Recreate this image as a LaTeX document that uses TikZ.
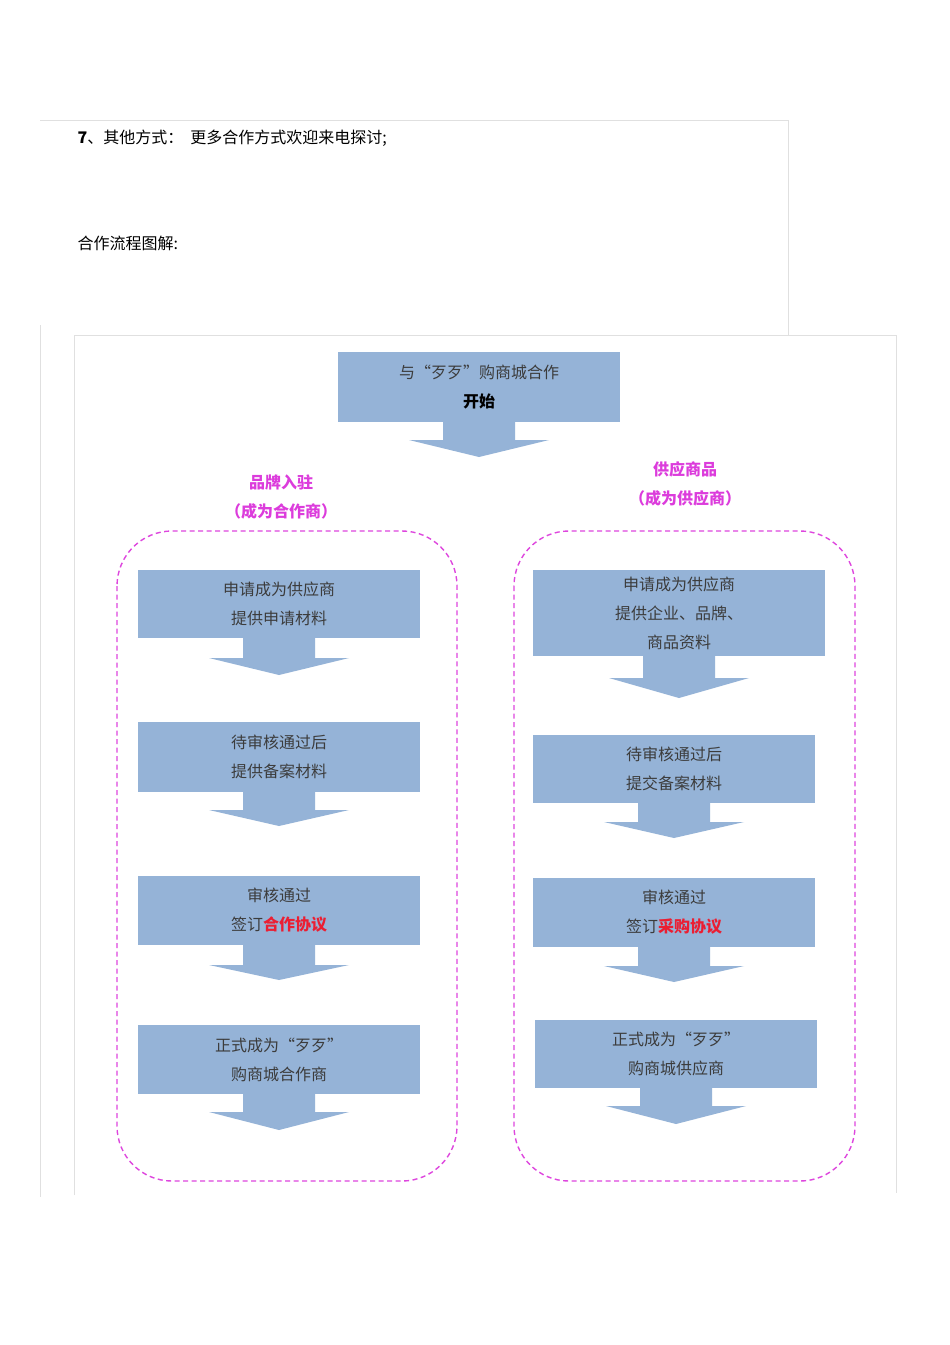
\documentclass[tikz,border=0pt]{standalone}
\usepackage{fontspec}
\setmainfont{Noto Sans CJK SC}
\begin{document}
\begin{tikzpicture}[x=1pt,y=-1pt,
  box/.style={fill=boxblue,inner sep=0pt,align=center,font=\fontsize{16}{29}\selectfont,text=txtgray},
  grpdash/.style={draw=dashmag,line width=1.4pt,dash pattern=on 5pt off 3.5pt,rounded corners=55pt},
  lab/.style={text=labmag,font=\fontsize{16}{29}\selectfont\bfseries,align=center},
  frame/.style={draw=black!12,line width=0.8pt}]
\definecolor{boxblue}{RGB}{149,179,215}
\definecolor{txtgray}{RGB}{60,60,60}
\definecolor{dashmag}{RGB}{222,70,222}
\definecolor{labmag}{RGB}{220,60,220}
\definecolor{hired}{RGB}{235,30,50}
\useasboundingbox (0,0) rectangle (950,1345);
\fill[white] (0,0) rectangle (950,1345);
% frames
\draw[frame] (40,120) -- (788,120) -- (788,335);
\draw[frame] (40,325) -- (40,1197);
\draw[frame] (74,1195) -- (74,335) -- (896,335) -- (896,1193);
\node[anchor=west,font=\fontsize{16}{20}\selectfont] (t1) at (74,138) {\textbf{7}、其他方式：\ \ 更多合作方式欢迎来电探讨;};
\node[anchor=west,font=\fontsize{16}{20}\selectfont] (t2) at (74,243) {合作流程图解:};
% name, x1,y1,x2,y2, heady, tipy, text
\newcommand{\flowbox}[8]{%
  \node[box,minimum width={#4-#2},minimum height={#5-#3}] (#1) at ({(#2+#4)/2},{(#3+#5)/2}) {#8};
  \fill[boxblue] ({(#2+#4)/2-36},#5) -- ({(#2+#4)/2-36},#6) -- ({(#2+#4)/2-70},#6) -- ({(#2+#4)/2},#7)
     -- ({(#2+#4)/2+70},#6) -- ({(#2+#4)/2+36},#6) -- ({(#2+#4)/2+36},#5) -- cycle;}
\flowbox{start}{338}{352}{620}{422}{440}{457}{与“歹歹”购商城合作\\\textbf{\color{black}开始}}
% labels
\node[lab] (labL) at (281,497) {品牌入驻\\（成为合作商）};
\node[lab] (labR) at (685,484) {供应商品\\（成为供应商）};
% dashed groups
\draw[grpdash] (117,531) rectangle (457,1181);
\draw[grpdash] (514,531) rectangle (855,1181);
% left column
\flowbox{l1}{138}{570}{420}{638}{658}{675}{申请成为供应商\\提供申请材料}
\flowbox{l2}{138}{722}{420}{792}{810}{826}{待审核通过后\\提供备案材料}
\flowbox{l3}{138}{876}{420}{945}{965}{980}{审核通过\\签订\textbf{\color{hired}合作协议}}
\flowbox{l4}{138}{1025}{420}{1094}{1112}{1130}{正式成为“歹歹”\\购商城合作商}
% right column
\flowbox{r1}{533}{570}{825}{656}{678}{698}{申请成为供应商\\提供企业、品牌、\\商品资料}
\flowbox{r2}{533}{735}{815}{803}{822}{838}{待审核通过后\\提交备案材料}
\flowbox{r3}{533}{878}{815}{947}{966}{982}{审核通过\\签订\textbf{\color{hired}采购协议}}
\flowbox{r4}{535}{1020}{817}{1088}{1106}{1124}{正式成为“歹歹”\\购商城供应商}
\end{tikzpicture}
\end{document}
